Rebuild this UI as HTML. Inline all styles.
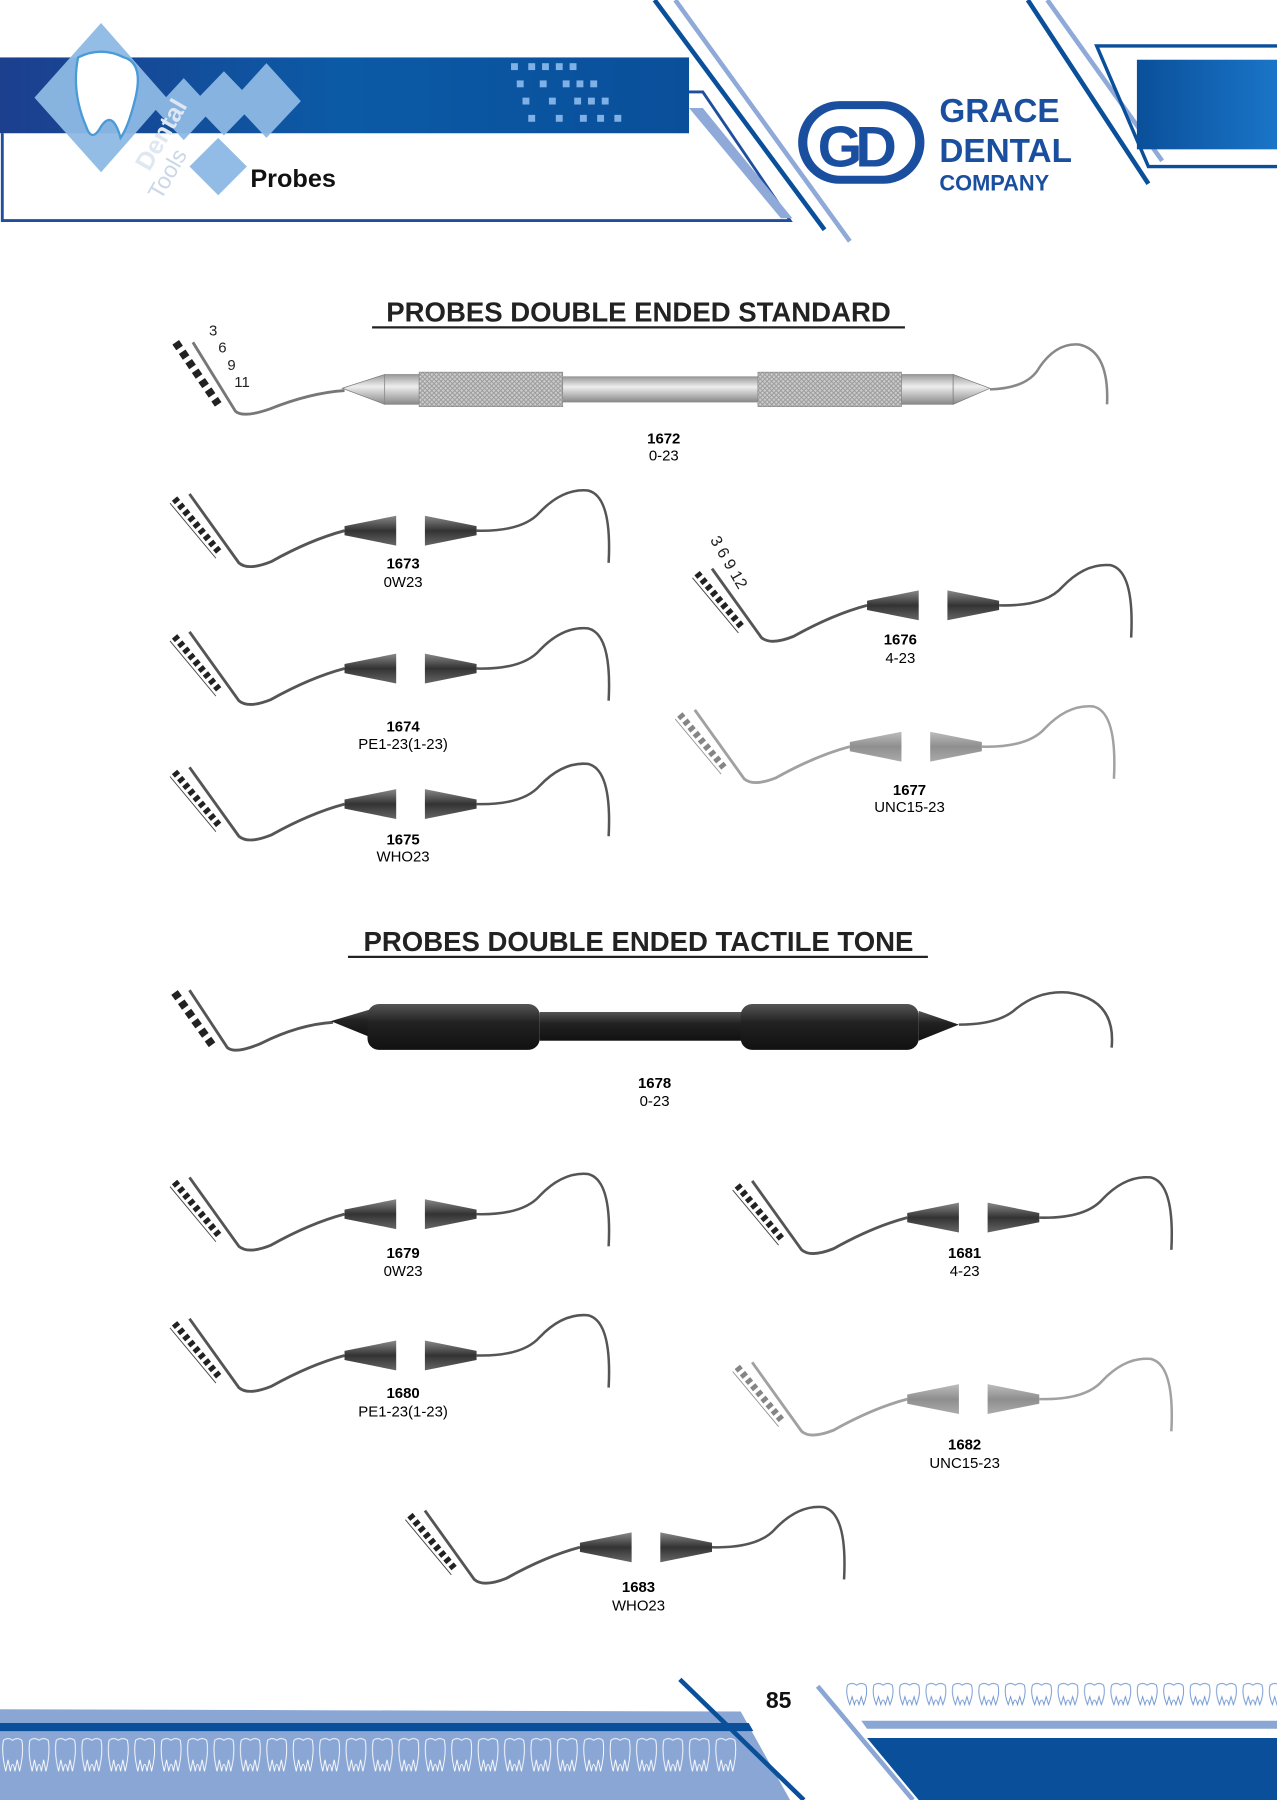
<!DOCTYPE html>
<html><head><meta charset="utf-8"><style>
html,body{margin:0;padding:0;background:#fff}
svg{display:block}
text{font-family:"Liberation Sans",Arial,sans-serif}
</style></head><body>
<svg width="1277" height="1800" viewBox="0 0 1112 1567" preserveAspectRatio="none" xmlns="http://www.w3.org/2000/svg">
<defs>
<linearGradient id="band" x1="0" x2="1"><stop offset="0" stop-color="#1c3f8e"/><stop offset="0.5" stop-color="#0b5aa6"/><stop offset="1" stop-color="#0a4f9a"/></linearGradient>
<linearGradient id="rbox" x1="0" x2="1"><stop offset="0" stop-color="#0a4f9a"/><stop offset="1" stop-color="#1a75c8"/></linearGradient>
<linearGradient id="cone" x1="0" y1="0" x2="0" y2="1"><stop offset="0" stop-color="#888"/><stop offset="0.5" stop-color="#333"/><stop offset="1" stop-color="#666"/></linearGradient>
<linearGradient id="metal" x1="0" y1="0" x2="0" y2="1"><stop offset="0" stop-color="#999"/><stop offset="0.4" stop-color="#eee"/><stop offset="1" stop-color="#888"/></linearGradient>
<linearGradient id="dark" x1="0" y1="0" x2="0" y2="1"><stop offset="0" stop-color="#555"/><stop offset="0.4" stop-color="#222"/><stop offset="1" stop-color="#111"/></linearGradient>
<pattern id="knurl" width="4" height="4" patternUnits="userSpaceOnUse"><rect width="4" height="4" fill="#ccc"/><path d="M0,4 L4,0 M0,0 L4,4" stroke="#999" stroke-width="0.8"/></pattern>
<pattern id="teeth" x="0" y="1512" width="23" height="34" patternUnits="userSpaceOnUse"><path d="M3,3 Q7,0 11,3 Q15,0 19,3 Q21,14 17,30 L15,20 L13,30 Q11,18 9,30 L7,20 L5,30 Q1,14 3,3Z" fill="none" stroke="#fff" stroke-width="0.8"/></pattern>
<pattern id="teethb" x="735" y="1464" width="23" height="26" patternUnits="userSpaceOnUse"><path d="M3,3 Q7,0 11,3 Q15,0 19,3 Q21,10 17,20 L15,13 L13,20 Q11,12 9,20 L7,13 L5,20 Q1,10 3,3Z" fill="none" stroke="#6b93cf" stroke-width="0.8"/></pattern>
<g id="probe">
  <line x1="152" y1="434" x2="192" y2="482" stroke="#222" stroke-width="6" stroke-dasharray="4 3"/>
  <line x1="148" y1="438" x2="188" y2="486" stroke="#444" stroke-width="0.8"/>
  <path d="M165,430 L208,490 Q216,497 236,489 Q270,470 300,462" fill="none" stroke="#555" stroke-width="2.5"/>
  <polygon points="300,458 345,449 345,475 300,466" fill="url(#cone)"/>
  <polygon points="370,449 415,458 415,466 370,475" fill="url(#cone)"/>
  <path d="M415,462 Q455,463 470,446 Q490,425 512,427 Q533,432 530,490" fill="none" stroke="#555" stroke-width="2.2"/>
</g>
</defs>

<!-- HEADER -->
<path d="M2,116 L2,192 L688,192 L612,80 L530,80" fill="none" stroke="#1f4f9c" stroke-width="2.5"/>
<polygon points="600,94 612,94 690,190 680,190" fill="#8fa9d8"/>
<rect x="0" y="50" width="600" height="66" fill="url(#band)"/>
<g fill="#7fb0e6">
<rect x="445" y="55" width="6" height="6"/><rect x="460" y="55" width="6" height="6"/><rect x="472" y="55" width="6" height="6"/><rect x="484" y="55" width="6" height="6"/><rect x="496" y="55" width="6" height="6"/>
<rect x="450" y="70" width="6" height="6"/><rect x="470" y="70" width="6" height="6"/><rect x="490" y="70" width="6" height="6"/><rect x="502" y="70" width="6" height="6"/><rect x="514" y="70" width="6" height="6"/>
<rect x="455" y="85" width="6" height="6"/><rect x="478" y="85" width="6" height="6"/><rect x="500" y="85" width="6" height="6"/><rect x="512" y="85" width="6" height="6"/><rect x="524" y="85" width="6" height="6"/>
<rect x="460" y="100" width="6" height="6"/><rect x="484" y="100" width="6" height="6"/><rect x="505" y="100" width="6" height="6"/><rect x="520" y="100" width="6" height="6"/><rect x="535" y="100" width="6" height="6"/>
</g>
<line x1="570" y1="0" x2="718" y2="200" stroke="#0a4f9a" stroke-width="4"/>
<line x1="588" y1="0" x2="740" y2="210" stroke="#8fa9d8" stroke-width="4"/>
<line x1="895" y1="0" x2="1000" y2="160" stroke="#0a4f9a" stroke-width="4"/>
<line x1="912" y1="0" x2="1012" y2="140" stroke="#8fa9d8" stroke-width="4"/>
<rect x="990" y="52" width="122" height="78" fill="url(#rbox)"/>
<path d="M1112,40 L955,40 L1000,145 L1112,145" fill="none" stroke="#0a4f9a" stroke-width="3"/>
<!-- left logo -->
<g fill="#8db9e4" opacity="0.95">
<polygon points="88,20 145,85 88,150 30,85"/>
<polygon points="160,68 185,95 160,122 135,95"/>
<polygon points="195,62 222,90 195,118 168,90"/>
<polygon points="232,55 262,88 232,120 202,88"/>
<polygon points="190,120 215,145 190,170 165,145"/>
</g>
<path d="M68,50 Q88,40 108,50 Q125,55 118,85 Q112,110 105,120 Q98,95 88,110 Q80,125 75,110 Q62,80 68,50Z" fill="#fff" stroke="#4a9ad8" stroke-width="2"/>
<text x="130" y="150" font-size="22" font-weight="bold" fill="#dfe7f2" transform="rotate(-60 130 150)">Dental</text>
<text x="140" y="175" font-size="20" fill="#cbd7e6" transform="rotate(-60 140 175)">Tools</text>
<text x="218" y="163" font-size="22" font-weight="bold" fill="#111">Probes</text>
<!-- GD logo -->
<rect x="695" y="88" width="110" height="72" rx="36" fill="#1a4fa0"/>
<rect x="703" y="95" width="94" height="58" rx="29" fill="#fff"/>
<text x="712" y="145" font-size="50" font-weight="bold" fill="#1a4fa0" letter-spacing="-6">GD</text>
<text x="818" y="106" font-size="29" font-weight="bold" fill="#1a4fa0">GRACE</text>
<text x="818" y="141" font-size="29" font-weight="bold" fill="#1a4fa0">DENTAL</text>
<text x="818" y="166" font-size="19" font-weight="bold" fill="#1a4fa0">COMPANY</text>

<!-- TITLES -->
<text x="556" y="280" font-size="24" font-weight="bold" text-anchor="middle" fill="#222">PROBES DOUBLE ENDED STANDARD</text>
<line x1="324" y1="285" x2="788" y2="285" stroke="#222" stroke-width="2"/>
<text x="556" y="828" font-size="24" font-weight="bold" text-anchor="middle" fill="#222">PROBES DOUBLE ENDED TACTILE TONE</text>
<line x1="303" y1="833" x2="808" y2="833" stroke="#222" stroke-width="2"/>

<!-- 1672 -->
<line x1="153" y1="298" x2="190" y2="352" stroke="#222" stroke-width="7" stroke-dasharray="6 4"/>
<path d="M168,298 L205,358 Q212,364 235,356 Q270,342 300,340" fill="none" stroke="#777" stroke-width="2.5"/>
<text x="182" y="292" font-size="13" fill="#222">3</text><text x="190" y="307" font-size="13" fill="#222">6</text><text x="198" y="322" font-size="13" fill="#222">9</text><text x="204" y="337" font-size="13" fill="#222">11</text>
<polygon points="298,338 335,326 335,352" fill="url(#metal)" stroke="#777" stroke-width="0.6"/>
<rect x="335" y="326" width="30" height="26" fill="url(#metal)" stroke="#888" stroke-width="0.6"/>
<rect x="365" y="324" width="125" height="30" fill="url(#knurl)" stroke="#888" stroke-width="0.6"/>
<rect x="490" y="328" width="170" height="22" fill="url(#metal)" stroke="#888" stroke-width="0.6"/>
<rect x="660" y="324" width="125" height="30" fill="url(#knurl)" stroke="#888" stroke-width="0.6"/>
<rect x="785" y="326" width="45" height="26" fill="url(#metal)" stroke="#888" stroke-width="0.6"/>
<polygon points="830,326 862,338 830,352" fill="url(#metal)" stroke="#777" stroke-width="0.6"/>
<path d="M862,339 Q895,338 905,320 Q920,298 940,300 Q966,306 964,352" fill="none" stroke="#888" stroke-width="2.2"/>
<text x="578" y="386" font-size="13" font-weight="bold" text-anchor="middle">1672</text>
<text x="578" y="401" font-size="13" text-anchor="middle">0-23</text>

<!-- small probes -->
<use href="#probe"/>
<text x="351" y="495" font-size="13" font-weight="bold" text-anchor="middle">1673</text>
<text x="351" y="511" font-size="13" text-anchor="middle">0W23</text>
<use href="#probe" transform="translate(0,120)"/>
<text x="351" y="637" font-size="13" font-weight="bold" text-anchor="middle">1674</text>
<text x="351" y="652" font-size="13" text-anchor="middle">PE1-23(1-23)</text>
<use href="#probe" transform="translate(0,238)"/>
<text x="351" y="735" font-size="13" font-weight="bold" text-anchor="middle">1675</text>
<text x="351" y="750" font-size="13" text-anchor="middle">WHO23</text>
<use href="#probe" transform="translate(455,65)"/>
<text x="618" y="470" font-size="14" fill="#222" transform="rotate(60 618 470)">3 6 9 12</text>
<text x="784" y="561" font-size="13" font-weight="bold" text-anchor="middle">1676</text>
<text x="784" y="577" font-size="13" text-anchor="middle">4-23</text>
<use href="#probe" transform="translate(440,188)" opacity="0.55"/>
<text x="792" y="692" font-size="13" font-weight="bold" text-anchor="middle">1677</text>
<text x="792" y="707" font-size="13" text-anchor="middle">UNC15-23</text>

<!-- 1678 -->
<line x1="152" y1="864" x2="185" y2="910" stroke="#222" stroke-width="7" stroke-dasharray="6 4"/>
<path d="M165,862 L198,912 Q205,918 228,908 Q260,892 290,890" fill="none" stroke="#555" stroke-width="2.5"/>
<polygon points="288,889 325,878 325,904" fill="url(#dark)"/>
<rect x="320" y="874" width="150" height="40" rx="10" fill="url(#dark)"/>
<rect x="470" y="881" width="180" height="25" fill="url(#dark)"/>
<rect x="645" y="874" width="155" height="40" rx="10" fill="url(#dark)"/>
<polygon points="800,880 835,892 800,906" fill="url(#dark)"/>
<path d="M835,892 Q870,892 885,878 Q905,862 930,864 Q972,870 968,912" fill="none" stroke="#555" stroke-width="2.2"/>
<text x="570" y="947" font-size="13" font-weight="bold" text-anchor="middle">1678</text>
<text x="570" y="963" font-size="13" text-anchor="middle">0-23</text>

<use href="#probe" transform="translate(0,595)"/>
<text x="351" y="1095" font-size="13" font-weight="bold" text-anchor="middle">1679</text>
<text x="351" y="1111" font-size="13" text-anchor="middle">0W23</text>
<use href="#probe" transform="translate(0,718)"/>
<text x="351" y="1217" font-size="13" font-weight="bold" text-anchor="middle">1680</text>
<text x="351" y="1233" font-size="13" text-anchor="middle">PE1-23(1-23)</text>
<use href="#probe" transform="translate(490,598)"/>
<text x="840" y="1095" font-size="13" font-weight="bold" text-anchor="middle">1681</text>
<text x="840" y="1111" font-size="13" text-anchor="middle">4-23</text>
<use href="#probe" transform="translate(490,756)" opacity="0.55"/>
<text x="840" y="1262" font-size="13" font-weight="bold" text-anchor="middle">1682</text>
<text x="840" y="1278" font-size="13" text-anchor="middle">UNC15-23</text>
<use href="#probe" transform="translate(205,885)"/>
<text x="556" y="1386" font-size="13" font-weight="bold" text-anchor="middle">1683</text>
<text x="556" y="1402" font-size="13" text-anchor="middle">WHO23</text>

<!-- FOOTER -->
<polygon points="0,1488 645,1490 688,1567 0,1567" fill="#8aa6d4"/>
<polygon points="0,1500 652,1500 656,1507 0,1507" fill="#0a4f9a"/>
<rect x="0" y="1512" width="644" height="34" fill="url(#teeth)"/>
<line x1="592" y1="1462" x2="700" y2="1567" stroke="#0a4f9a" stroke-width="4"/>
<text x="678" y="1487" font-size="20" font-weight="bold" fill="#111" text-anchor="middle">85</text>
<line x1="712" y1="1468" x2="795" y2="1567" stroke="#8aa6d4" stroke-width="4"/>
<rect x="735" y="1464" width="377" height="26" fill="url(#teethb)"/>
<polygon points="750,1498 1112,1498 1112,1505 755,1505" fill="#8aa6d4"/>
<polygon points="755,1513 1112,1513 1112,1567 800,1567" fill="#0a4f9a"/>
</svg>
</body></html>
